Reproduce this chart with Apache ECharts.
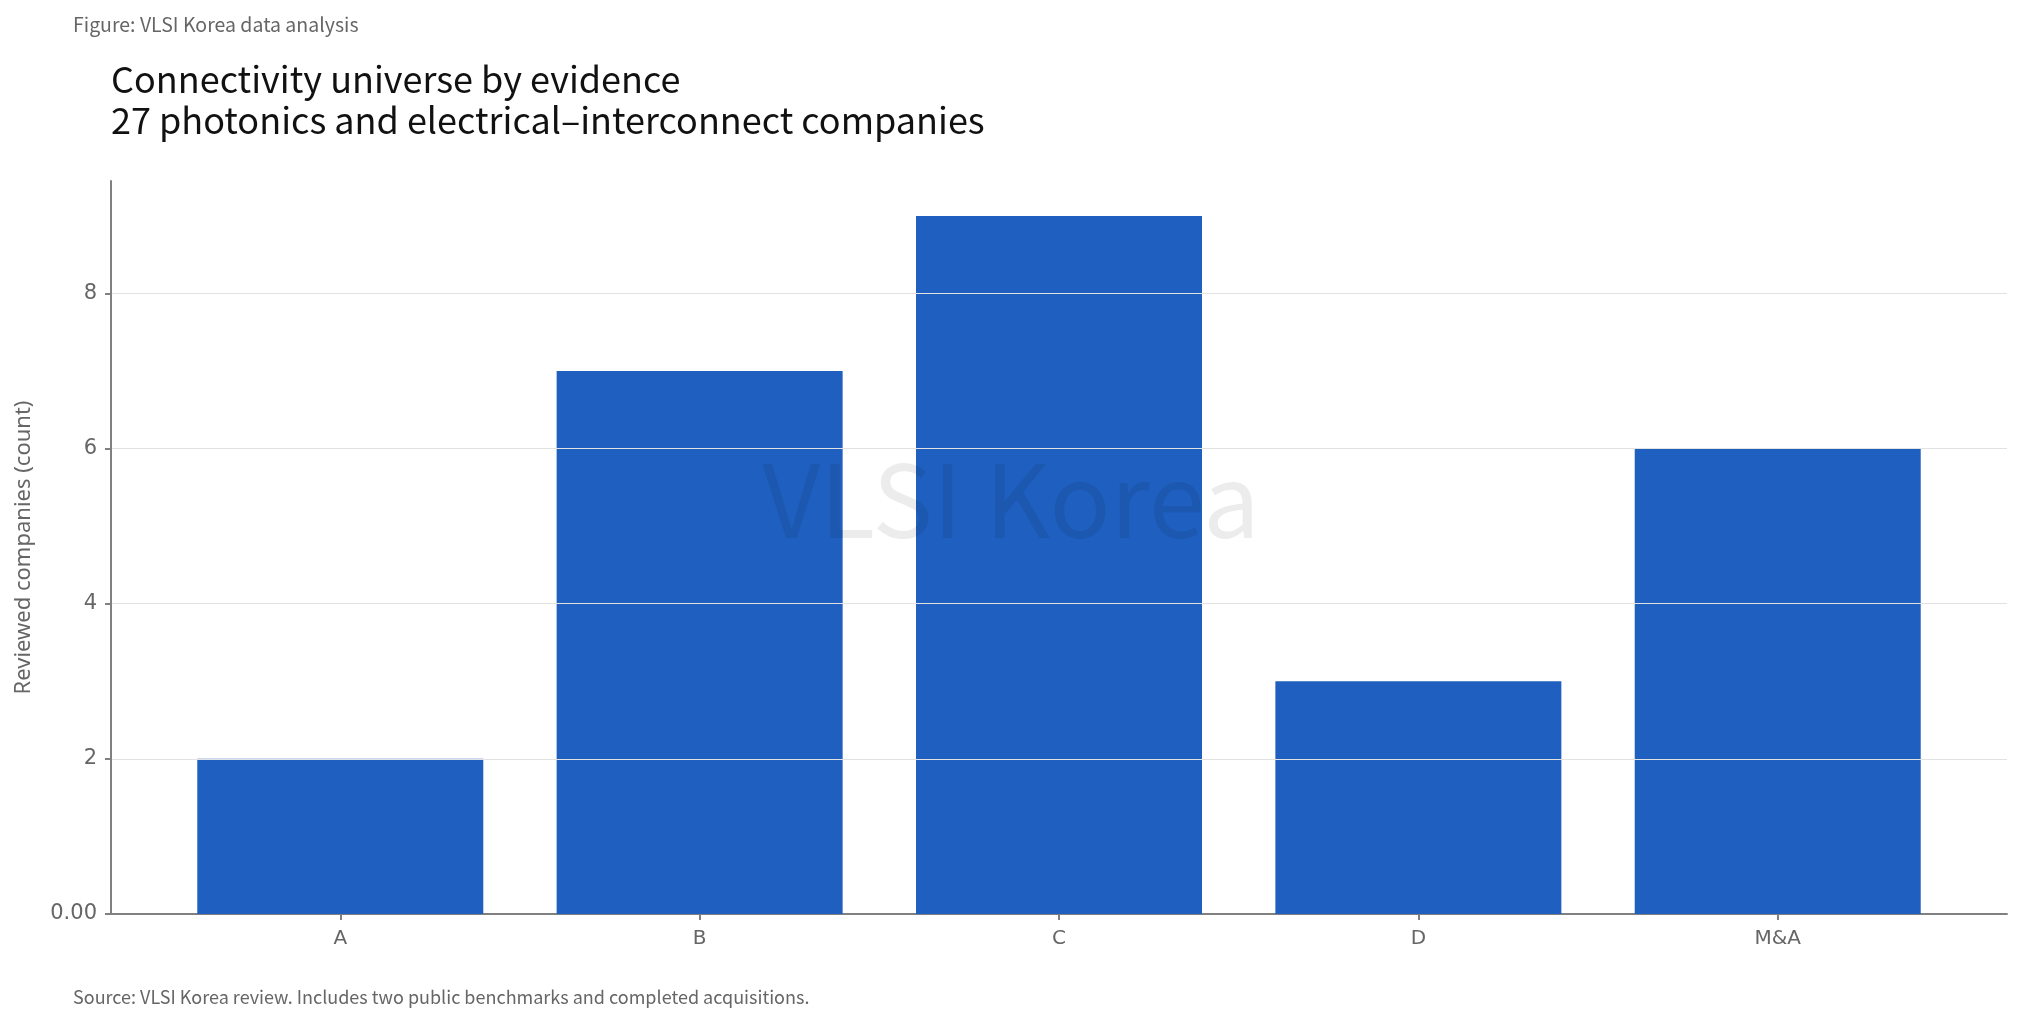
<!DOCTYPE html>
<html>
<head>
<meta charset="utf-8">
<script src="https://cdn.jsdelivr.net/npm/echarts@6/dist/echarts.min.js"></script>
<style>
html,body{margin:0;padding:0;background:#fff;}
#chart{width:2022px;height:1025px;}
</style>
</head>
<body>
<div id="chart"></div>
<script>
const categories = ['A', 'B', 'C', 'D', 'M&A'];
const counts = [2, 7, 9, 3, 6];
const yTicks = [0, 2, 4, 6, 8];

const chart = echarts.init(document.getElementById('chart'), null, {renderer: 'canvas'});
const catIdx = categories.map((c, i) => i);

const option = {
  backgroundColor: '#ffffff',
  animation: false,
  textStyle: {fontFamily: 'Noto Sans CJK KR'},
  graphic: [
    {type: 'text', left: 73, top: 15, z: 10,
     style: {text: 'Figure: VLSI Korea data analysis', fontFamily: 'Noto Sans CJK KR', fontSize: 19.5, fill: '#666666'}},
    {type: 'text', left: 111, top: 59, z: 10,
     style: {text: 'Connectivity universe by evidence\n27 photonics and electrical\u2013interconnect companies', fontFamily: 'Noto Sans CJK KR', fontSize: 36, lineHeight: 41, fill: '#111111'}},
    {type: 'text', left: 73, top: 988, z: 10,
     style: {text: 'Source: VLSI Korea review. Includes two public benchmarks and completed acquisitions.', fontFamily: 'Noto Sans CJK KR', fontSize: 18, fill: '#666666'}},
    {type: 'text', x: 1011, y: 500, z: 100,
     style: {text: 'VLSI Korea', fontFamily: 'Noto Sans CJK KR', fontSize: 101, fill: 'rgba(0,0,0,0.075)', align: 'center', verticalAlign: 'middle'}}
  ],
  grid: {left: 111, right: 15, top: 181, bottom: 111, containLabel: false},
  xAxis: {
    type: 'value',
    min: -0.638,
    max: 4.638,
    axisLine: {show: true, onZero: false, lineStyle: {color: '#808080', width: 2}},
    axisTick: {show: true, customValues: catIdx, length: 6, lineStyle: {color: '#808080', width: 2}},
    axisLabel: {customValues: catIdx, formatter: v => categories[Math.round(v)], color: '#666666', fontFamily: 'DejaVu Sans', fontSize: 20, margin: 15},
    splitLine: {show: false}
  },
  yAxis: {
    type: 'value',
    min: 0,
    max: 9.45,
    z: 3,
    name: 'Reviewed companies (count)',
    nameLocation: 'middle',
    nameGap: 76,
    nameTextStyle: {fontFamily: 'Noto Sans', fontSize: 22, color: '#666666'},
    axisLine: {show: true, onZero: false, lineStyle: {color: '#808080', width: 2}},
    axisTick: {show: true, customValues: yTicks, length: 6, lineStyle: {color: '#808080', width: 2}},
    axisLabel: {customValues: yTicks, formatter: v => v === 0 ? '0.00' : String(v), color: '#666666', fontFamily: 'DejaVu Sans', fontSize: 21, margin: 14},
    splitLine: {show: true, showMinLine: false, lineStyle: {color: '#e2e2e2', width: 1}}
  },
  series: [{
    type: 'bar',
    data: counts.map((v, i) => [i, v]),
    barWidth: 286,
    itemStyle: {color: '#1f5fbf'},
    z: 2
  }]
};
chart.setOption(option);
</script>
</body>
</html>
